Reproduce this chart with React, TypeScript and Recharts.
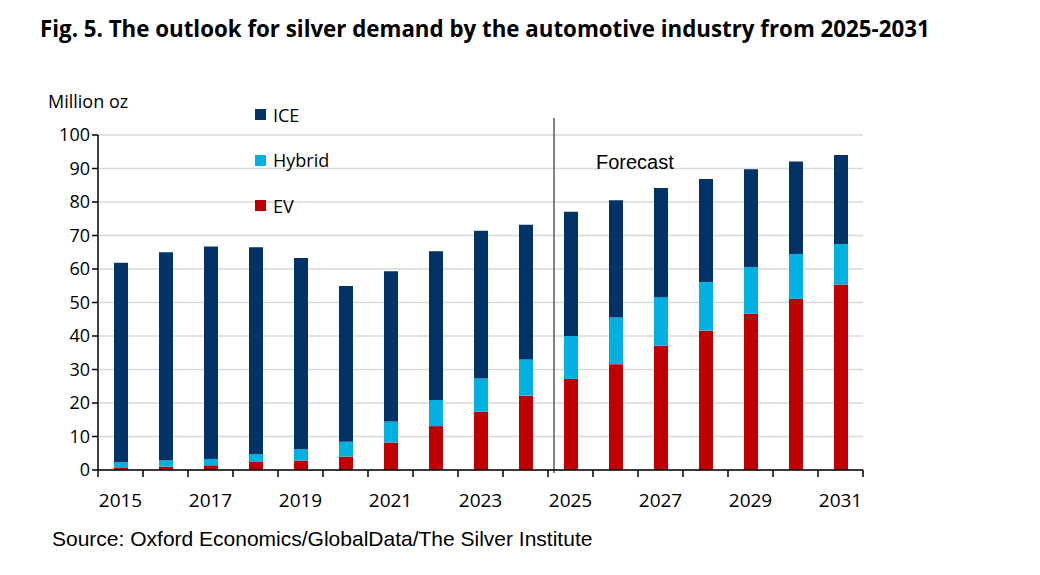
import React from 'react';
import {
  BarChart,
  Bar,
  XAxis,
  YAxis,
  CartesianGrid,
  Legend,
  ReferenceLine,
} from 'recharts';

// Silver demand by the automotive industry, million oz
const years = [
  '2015', '2016', '2017', '2018', '2019', '2020', '2021', '2022', '2023',
  '2024', '2025', '2026', '2027', '2028', '2029', '2030', '2031',
];
const ev = [0.6, 1.0, 1.4, 2.4, 2.8, 4.0, 8.2, 13.1, 17.4, 22.2, 27.2, 31.6, 37.1, 41.6, 46.6, 51.1, 55.4];
const hybrid = [1.7, 1.8, 1.9, 2.4, 3.4, 4.4, 6.3, 7.8, 9.9, 10.8, 12.8, 13.9, 14.5, 14.5, 14.0, 13.4, 12.1];
const ice = [59.6, 62.2, 63.4, 61.7, 57.1, 46.5, 44.8, 44.4, 44.1, 40.2, 37.1, 35.0, 32.6, 30.8, 29.2, 27.6, 26.5];
const yTicks = [0, 10, 20, 30, 40, 50, 60, 70, 80, 90, 100];
const lastActualYear = '2024';

const W = 1040;
const H = 575;
const MARGIN = { top: 135, right: 177, left: 48, bottom: 75 };
const Y_AXIS_W = 50;
const PLOT_W = W - MARGIN.left - MARGIN.right - Y_AXIS_W;
const BAND = PLOT_W / years.length;

const series = [
  { key: 'ice', name: 'ICE', color: '#023366' },
  { key: 'hybrid', name: 'Hybrid', color: '#00b0e0' },
  { key: 'ev', name: 'EV', color: '#c00000' },
];

const axisFont = '"Open Sans", "Noto Sans", sans-serif';
const arialFont = '"Liberation Sans", Arial, sans-serif';

const data = years.map((year, i) => ({
  year,
  ev: ev[i],
  hybrid: hybrid[i],
  ice: ice[i],
}));

// ticks sit on the category boundaries, labels every other year
const XTick = (props: any) => {
  const { x, y, payload, index } = props;
  const half = BAND / 2;
  return (
    <g>
      <line x1={x - half} y1={y} x2={x - half} y2={y + 7} stroke="#000" strokeWidth={1.5} />
      {index === years.length - 1 && (
        <line x1={x + half} y1={y} x2={x + half} y2={y + 7} stroke="#000" strokeWidth={1.5} />
      )}
      {index % 2 === 0 && (
        <text x={x} y={y + 37} textAnchor="middle" fill="#000" fontSize={19} fontFamily={axisFont}>
          {payload.value}
        </text>
      )}
    </g>
  );
};

const ForecastLine = (props: any) => {
  const { x1, y1, y2 } = props;
  const x = x1 + 6;
  const top = Math.min(y1, y2);
  const bottom = Math.max(y1, y2);
  return (
    <g>
      <line x1={x} y1={top - 17} x2={x} y2={bottom + 3} stroke="#595959" strokeWidth={1.5} />
      <text x={x + 42} y={top + 34} fill="#000" fontSize={20} fontFamily={arialFont}>
        Forecast
      </text>
    </g>
  );
};

const renderLegend = () => (
  <div style={{ fontFamily: axisFont, fontSize: 18, color: '#000' }}>
    {series.map((s) => (
      <div key={s.key} style={{ display: 'flex', alignItems: 'center', height: 45.5 }}>
        <span style={{ width: 11, height: 11, background: s.color, marginRight: 7 }} />
        <span>{s.name}</span>
      </div>
    ))}
  </div>
);

export default function App() {
  return (
    <div style={{ position: 'absolute', top: 0, left: 0, width: W, height: H, background: '#fff' }}>
      <div
        style={{
          position: 'absolute',
          left: 40,
          top: 13,
          fontFamily: axisFont,
          fontWeight: 700,
          fontSize: 22.3,
          color: '#000',
          whiteSpace: 'nowrap',
        }}
      >
        Fig. 5. The outlook for silver demand by the automotive industry from 2025-2031
      </div>
      <div
        style={{
          position: 'absolute',
          left: 48,
          top: 89,
          fontFamily: axisFont,
          fontSize: 18,
          color: '#000',
          whiteSpace: 'nowrap',
        }}
      >
        Million oz
      </div>
      <BarChart width={W} height={H} data={data} margin={MARGIN} barSize={14}>
        <CartesianGrid vertical={false} stroke="#d9d9d9" strokeWidth={1.5} />
        <XAxis
          dataKey="year"
          interval={0}
          tickLine={false}
          tickSize={0}
          tickMargin={0}
          height={30}
          axisLine={{ stroke: '#000', strokeWidth: 1.5 }}
          tick={<XTick />}
        />
        <YAxis
          width={Y_AXIS_W}
          domain={[0, 100]}
          ticks={yTicks}
          interval={0}
          tickSize={6}
          axisLine={{ stroke: '#000', strokeWidth: 1.5 }}
          tickLine={{ stroke: '#000', strokeWidth: 1.5 }}
          tick={{ fill: '#000', fontSize: 18, fontFamily: axisFont }}
        />
        <Legend
          layout="vertical"
          align="center"
          verticalAlign="middle"
          content={renderLegend}
          wrapperStyle={{ top: 92, left: 255, width: 'auto' }}
        />
        <Bar dataKey="ev" stackId="a" fill="#c00000" name="EV" isAnimationActive={false} />
        <Bar dataKey="hybrid" stackId="a" fill="#00b0e0" name="Hybrid" isAnimationActive={false} />
        <Bar dataKey="ice" stackId="a" fill="#023366" name="ICE" isAnimationActive={false} />
        <ReferenceLine x={lastActualYear} position="end" ifOverflow="visible" shape={<ForecastLine />} />
      </BarChart>
      <div
        style={{
          position: 'absolute',
          left: 52,
          top: 527,
          fontFamily: arialFont,
          fontSize: 21,
          color: '#000',
          whiteSpace: 'nowrap',
        }}
      >
        Source: Oxford Economics/GlobalData/The Silver Institute
      </div>
    </div>
  );
}
